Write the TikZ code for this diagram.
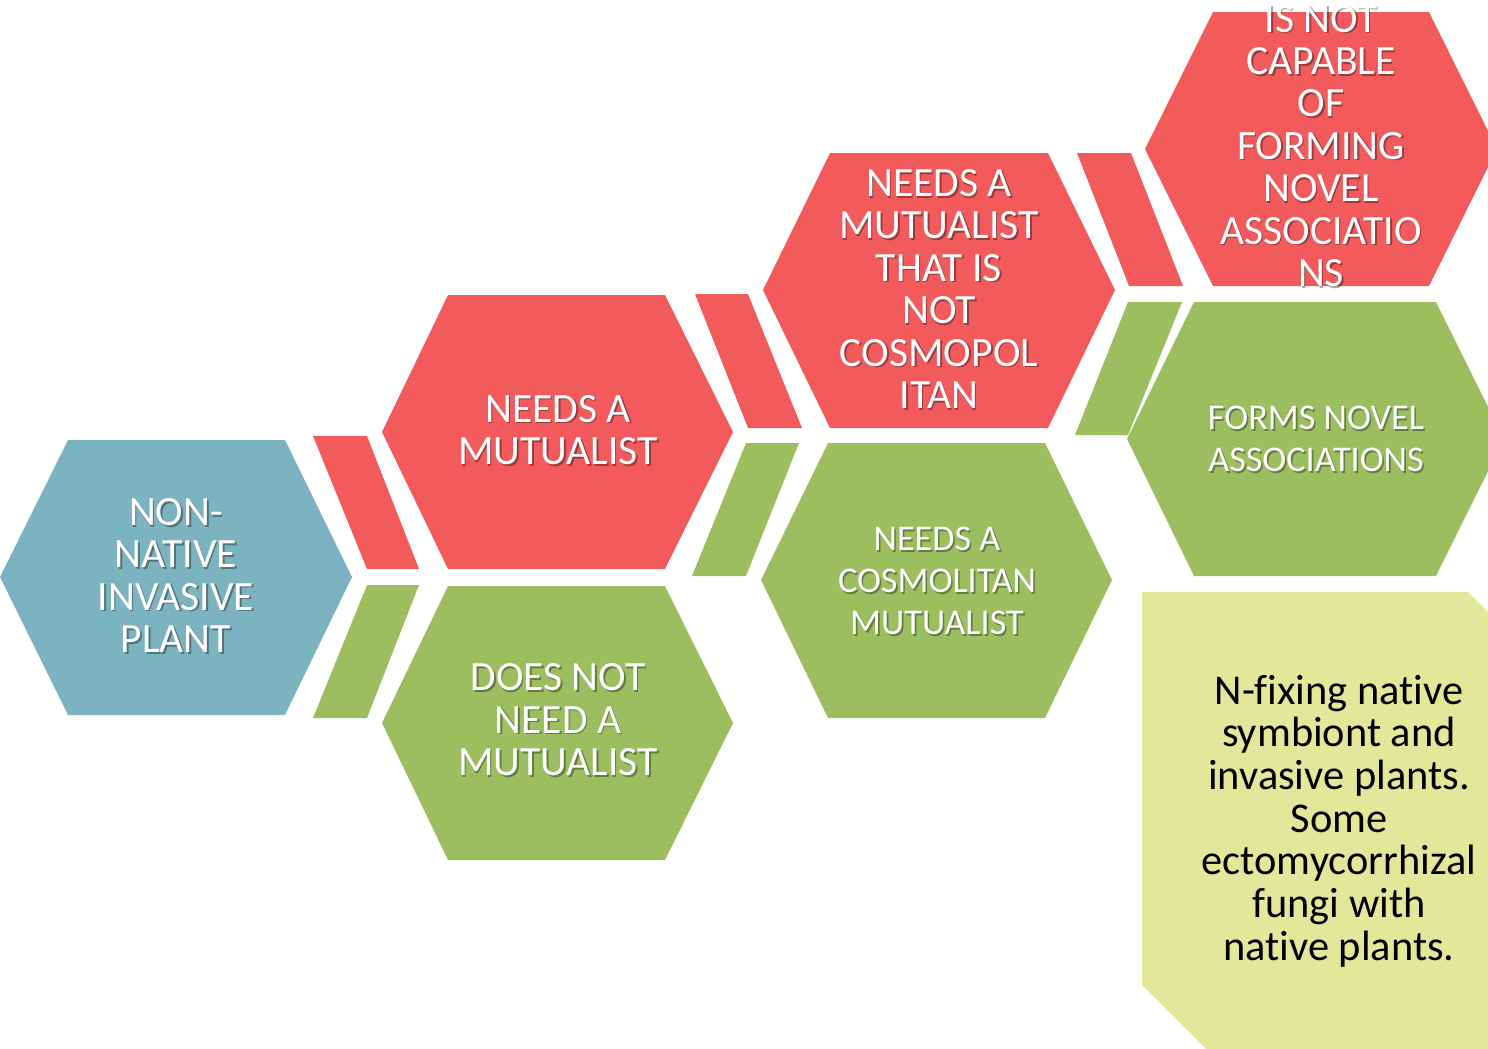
\documentclass[tikz,border=0pt]{standalone}
\usepackage{fontspec}
\setmainfont{Carlito}[Ligatures={NoCommon}]
\definecolor{hexblue}{RGB}{123,179,192}
\definecolor{hexred}{RGB}{242,90,92}
\definecolor{hexgreen}{RGB}{155,191,94}
\definecolor{notefill}{RGB}{225,232,153}
\tikzset{
  lbl/.style={text=white, align=center, inner sep=0pt,
    font=\fontsize{20.8pt}{21.2pt}\selectfont},
  lblsmall/.style={font=\fontsize{18.1pt}{21pt}\selectfont},
  lblshadow/.style={text=black, opacity=0.35, xshift=0.8pt, yshift=-0.8pt},
  notetext/.style={text=black, align=center, inner sep=0pt,
    font=\fontsize{21.2pt}{21.35pt}\selectfont}
}
% white label with a soft drop shadow: name, position, extra style, text
\newcommand\hexlabel[4]{%
  \node[lbl,#3,lblshadow] (#1-shadow) at (#2) {#4};
  \node[lbl,#3] (#1) at (#2) {#4};
}
\begin{document}
\begin{tikzpicture}[x=0.5pt,y=-0.5pt]
\useasboundingbox (0,0) rectangle (1488,1049);
\clip (0,0) rectangle (1488,1049);

% hexagons
\fill[hexblue]  (0,577) -- (68,440) -- (285,440) -- (352,577) -- (285,715) -- (68,715) -- cycle;
\fill[hexred]   (382,432) -- (448,295) -- (665,295) -- (733,432) -- (665,569) -- (448,569) -- cycle;
\fill[hexgreen] (382,723) -- (448,586) -- (665,586) -- (733,723) -- (665,860) -- (448,860) -- cycle;
\fill[hexred]   (763,290) -- (830,153) -- (1048,153) -- (1115,290) -- (1048,428) -- (830,428) -- cycle;
\fill[hexgreen] (761,580) -- (828,443) -- (1045,443) -- (1112,580) -- (1045,718) -- (828,718) -- cycle;
\fill[hexred]   (1145,149) -- (1213,12) -- (1429,12) -- (1497,149) -- (1429,286) -- (1213,286) -- cycle;
\fill[hexgreen] (1127,439) -- (1194,302) -- (1436,302) -- (1504,439) -- (1436,576) -- (1194,576) -- cycle;

% slanted links between steps
\fill[hexred]   (313,436) -- (367,436) -- (419,569) -- (367,569) -- cycle;
\fill[hexgreen] (367,585) -- (419,585) -- (367,718) -- (313,718) -- cycle;
\fill[hexred]   (695,294) -- (748,294) -- (802,428) -- (748,428) -- cycle;
\fill[hexgreen] (746,443) -- (799,443) -- (746,576) -- (692,576) -- cycle;
\fill[hexred]   (1077,153) -- (1131,153) -- (1183,286) -- (1129,286) -- cycle;
\fill[hexgreen] (1128,302) -- (1182,302) -- (1128,435) -- (1075,435) -- cycle;

% note panel with snipped corners
\fill[notefill] (1142,592) -- (1468,592) -- (1560,684) -- (1560,1120)
  -- (1277,1120) -- (1142,985) -- cycle;

% labels
\hexlabel{plant}{176,575.5}{}{NON-\\NATIVE\\INVASIVE\\PLANT}
\hexlabel{needs}{558,430}{}{NEEDS A\\MUTUALIST}
\hexlabel{noneed}{558,720}{}{DOES NOT\\NEED A\\MUTUALIST}
\hexlabel{notcosmo}{939,289}{}{NEEDS A\\MUTUALIST\\THAT IS\\NOT\\COSMOPOL\\ITAN}
\hexlabel{cosmo}{937,581}{lblsmall}{NEEDS A\\COSMOLITAN\\MUTUALIST}
\hexlabel{notnovel}{1321,146}{}{IS NOT\\CAPABLE\\OF\\FORMING\\NOVEL\\ASSOCIATIO\\NS}
\hexlabel{novel}{1316,439}{lblsmall}{FORMS NOVEL\\ASSOCIATIONS}

\node[notetext] (note) at (1339,821) {N-fixing native\\symbiont and\\invasive plants.\\Some\\ectomycorrhizal\\fungi with\\native plants.};
\end{tikzpicture}
\end{document}
